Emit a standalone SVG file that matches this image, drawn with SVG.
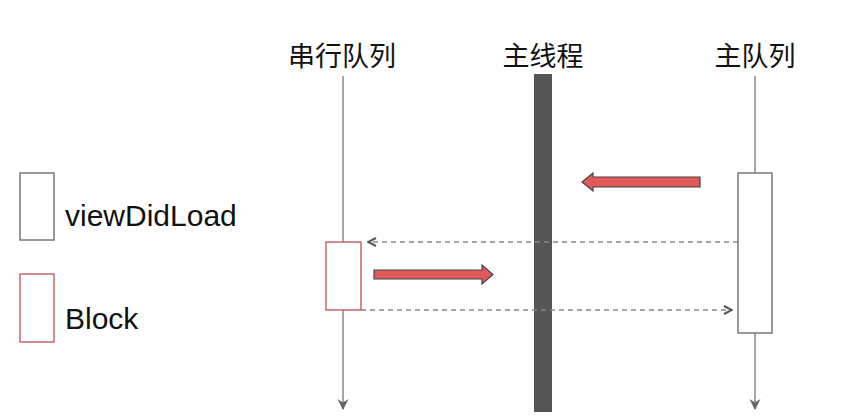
<svg xmlns="http://www.w3.org/2000/svg" width="864" height="420" viewBox="0 0 864 420">
<style>
.t{font-family:"Noto Sans CJK SC","Liberation Sans",sans-serif;font-size:27px;fill:#111;text-anchor:middle}
.l{font-family:"Liberation Sans",Arial,sans-serif;font-size:30px;fill:#111}
.life{stroke:#777;stroke-width:1.3;fill:none}
.act{fill:#fff;stroke:#777;stroke-width:1.5}
.blk{fill:#fff;stroke:#c9656a;stroke-width:1.5}
.dash{stroke:#888;stroke-width:1.3;stroke-dasharray:5 4;fill:none}
.fat{fill:#e05a5c;stroke:#444;stroke-width:1.2}
</style>
<defs>
<marker id="chev" viewBox="0 0 10 10" refX="9" refY="5" markerWidth="10" markerHeight="10" markerUnits="userSpaceOnUse" orient="auto">
<path d="M1,1 L9,5 L1,9" fill="none" stroke="#555" stroke-width="2"/>
</marker>
<marker id="tri" viewBox="0 0 10 10" refX="9" refY="5" markerWidth="11" markerHeight="12" markerUnits="userSpaceOnUse" orient="auto">
<path d="M0,0 L10,5 L0,10 L3,5 Z" fill="#666"/>
</marker>
</defs>
<rect width="864" height="420" fill="#fff"/>
<g id="serial-queue">
<text class="t" x="342" y="66">串行队列</text>
</g>
<g id="main-thread">
<text class="t" x="543" y="66">主线程</text>
<rect x="534" y="74" width="18" height="338" fill="#555"/>
</g>
<g id="main-queue">
<text class="t" x="755" y="66">主队列</text>
</g>
<g id="connectors">
<line class="life" x1="343" y1="76" x2="343" y2="409" marker-end="url(#tri)"/>
<line class="life" x1="755" y1="76" x2="755" y2="409" marker-end="url(#tri)"/>
<line class="dash" x1="738" y1="242" x2="368" y2="242" marker-end="url(#chev)"/>
<line class="dash" x1="361" y1="310" x2="732" y2="310" marker-end="url(#chev)"/>
<path class="fat" d="M700,177 L593,177 L593,173 L582,182 L593,191 L593,187 L700,187 Z"/>
<path class="fat" d="M374,270 L482,270 L482,265 L493,274.5 L482,284 L482,279 L374,279 Z"/>
</g>
<g id="viewDidLoad-activation">
<rect class="act" x="738" y="173" width="34" height="160"/>
</g>
<g id="block-activation">
<rect class="blk" x="326" y="242" width="35" height="68"/>
</g>
<g id="legend-viewDidLoad">
<rect class="act" x="20" y="173" width="34" height="67"/>
<text class="l" x="65" y="226">viewDidLoad</text>
</g>
<g id="legend-block">
<rect class="blk" x="20" y="274" width="34" height="68"/>
<text class="l" x="65" y="329">Block</text>
</g>
</svg>
